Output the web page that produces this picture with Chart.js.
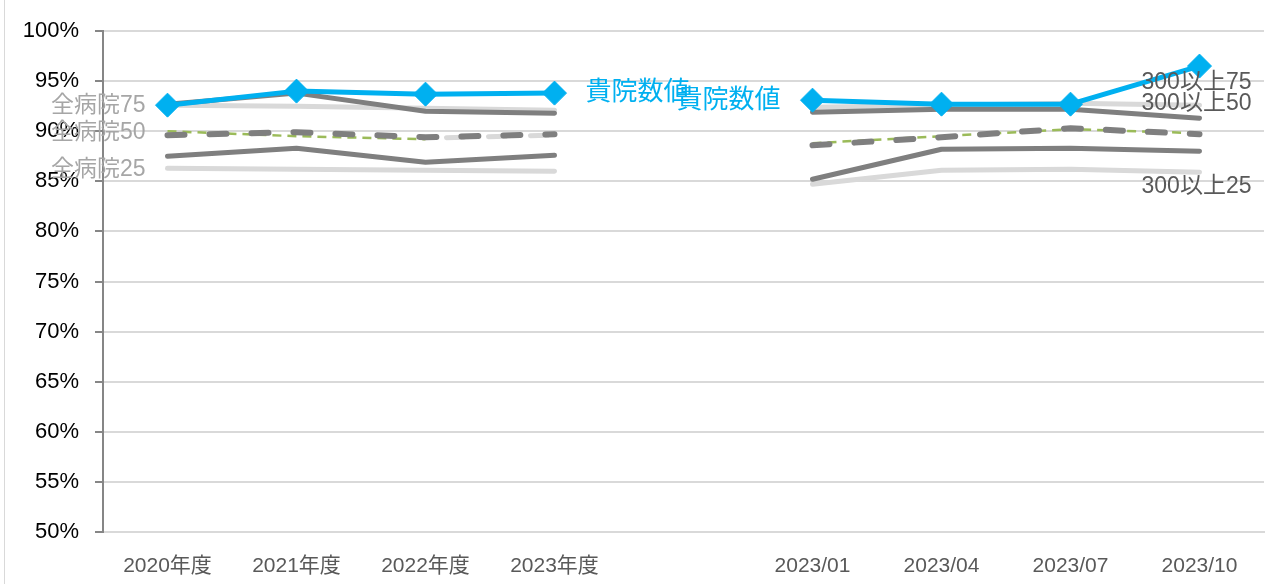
<!DOCTYPE html>
<html>
<head>
<meta charset="utf-8">
<script src="https://cdn.jsdelivr.net/npm/chart.js@4"></script>
<style>
  html, body { margin: 0; padding: 0; background: #fff; }
  #wrap { position: relative; width: 1279px; height: 584px; }
  #frame { position: absolute; left: 4px; top: 0; width: 1px; height: 584px; background: #d9d9d9; }
</style>
</head>
<body>
<div id="wrap">
  <div id="frame"></div>
  <canvas id="chart" width="1279" height="584"></canvas>
</div>
<script>
/* ===== data ===== */
const categories = ["2020年度", "2021年度", "2022年度", "2023年度", "", "2023/01", "2023/04", "2023/07", "2023/10"];
const yTicks = [50, 55, 60, 65, 70, 75, 80, 85, 90, 95, 100];

const kiin    = [92.6, 94.0, 93.7, 93.8, null, 93.1, 92.7, 92.7, 96.5];
const light75 = [92.6, 92.5, 92.3, 92.1, null, 92.4, 92.6, 92.8, 92.6];
const dark75  = [92.7, 93.8, 92.0, 91.8, null, 91.9, 92.2, 92.2, 91.3];
const dark50  = [89.6, 89.9, 89.4, 89.7, null, 88.6, 89.4, 90.3, 89.7];
const green50 = [90.0, 89.5, 89.2, null, null, 88.8, 89.5, 90.2, 89.8];
const light50 = [null, null, 89.3, 89.6, null, null, null, null, null];
const dark25  = [87.5, 88.3, 86.9, 87.6, null, 85.2, 88.2, 88.3, 88.0];
const light25 = [86.3, 86.2, 86.1, 86.0, null, 84.7, 86.1, 86.2, 85.9];

const FONT = "'Liberation Sans', 'Noto Sans CJK JP', sans-serif";
const BLUE = "#00b0f0";
const DARK = "#7f7f7f";
const LIGHT = "#d9d9d9";
const GREEN = "#9bbb59";

/* series labels: dataset key, point index, offset */
const seriesLabels = [
  { text: "全病院75", key: "light75", i: 0, dx: -22, dy: 1, align: "right", color: "#a6a6a6", size: 23 },
  { text: "全病院50", key: "green50", i: 0, dx: -22, dy: 1, align: "right", color: "#a6a6a6", size: 23 },
  { text: "全病院25", key: "light25", i: 0, dx: -22, dy: 1, align: "right", color: "#a6a6a6", size: 23 },
  { text: "貴院数値", key: "kiin", i: 3, dx: 31, dy: 0, align: "left", color: BLUE, size: 26 },
  { text: "貴院数値", key: "kiin", i: 5, dx: -32, dy: 1, align: "right", color: BLUE, size: 26 },
  { text: "300以上75", key: "light75", i: 8, dx: -3, dy: -22, align: "center", color: "#595959", size: 23 },
  { text: "300以上50", key: "green50", i: 8, dx: -3, dy: -30, align: "center", color: "#595959", size: 23 },
  { text: "300以上25", key: "light25", i: 8, dx: -3, dy: 14, align: "center", color: "#595959", size: 23 }
];

const labelPlugin = {
  id: "seriesLabels",
  afterDatasetsDraw(chart) {
    const ctx = chart.ctx;
    ctx.save();
    ctx.textBaseline = "middle";
    seriesLabels.forEach(l => {
      const dsIndex = chart.data.datasets.findIndex(d => d.key === l.key);
      const pt = chart.getDatasetMeta(dsIndex).data[l.i];
      if (!pt) return;
      ctx.font = l.size + "px " + FONT;
      ctx.fillStyle = l.color;
      ctx.textAlign = l.align;
      ctx.fillText(l.text, pt.x + l.dx, pt.y + l.dy);
    });
    ctx.restore();
  }
};

function solid(key, data, color, width) {
  return { key, data, borderColor: color, backgroundColor: color, borderWidth: width,
    pointRadius: 0, borderCapStyle: "round", borderJoinStyle: "round", spanGaps: false };
}

const dsKiin = solid("kiin", kiin, BLUE, 5);
dsKiin.pointStyle = "rectRot";
dsKiin.pointRadius = 12;
dsKiin.pointBorderWidth = 1;
dsKiin.pointBackgroundColor = BLUE;

const dsDark50 = solid("dark50", dark50, DARK, 6);
dsDark50.borderDash = [17, 25];

const dsGreen = solid("green50", green50, GREEN, 2.5);
dsGreen.borderDash = [9, 6];
dsGreen.borderCapStyle = "butt";

const dsLight50 = solid("light50", light50, LIGHT, 5);
dsLight50.borderDash = [17, 25];
dsLight50.borderDashOffset = 21;

new Chart(document.getElementById("chart"), {
  type: "line",
  data: {
    labels: categories,
    datasets: [
      dsKiin,
      solid("dark75", dark75, DARK, 5),
      dsDark50,
      solid("dark25", dark25, DARK, 5),
      dsGreen,
      solid("light75", light75, LIGHT, 5),
      dsLight50,
      solid("light25", light25, LIGHT, 5)
    ]
  },
  options: {
    responsive: false,
    animation: false,
    layout: { padding: { top: 31, right: 15, left: 0, bottom: 0 } },
    plugins: { legend: { display: false }, tooltip: { enabled: false } },
    scales: {
      x: {
        offset: true,
        grid: { display: false, drawTicks: false },
        border: { display: true, color: LIGHT, width: 2 },
        ticks: { color: "#595959", font: { family: FONT, size: 21 }, padding: 22, maxRotation: 0, autoSkip: false },
        afterFit: s => { s.height = 52; }
      },
      y: {
        min: 50, max: 100,
        afterBuildTicks: s => { s.ticks = yTicks.map(v => ({ value: v })); },
        grid: { color: LIGHT, lineWidth: 2, tickLength: 8, tickColor: "#868686", tickWidth: 2 },
        border: { color: "#868686", width: 2 },
        ticks: { color: "#000", font: { family: FONT, size: 22 }, padding: 16, callback: v => v + "%" },
        afterFit: s => { s.width = 103; }
      }
    }
  },
  plugins: [labelPlugin]
});
</script>
</body>
</html>
